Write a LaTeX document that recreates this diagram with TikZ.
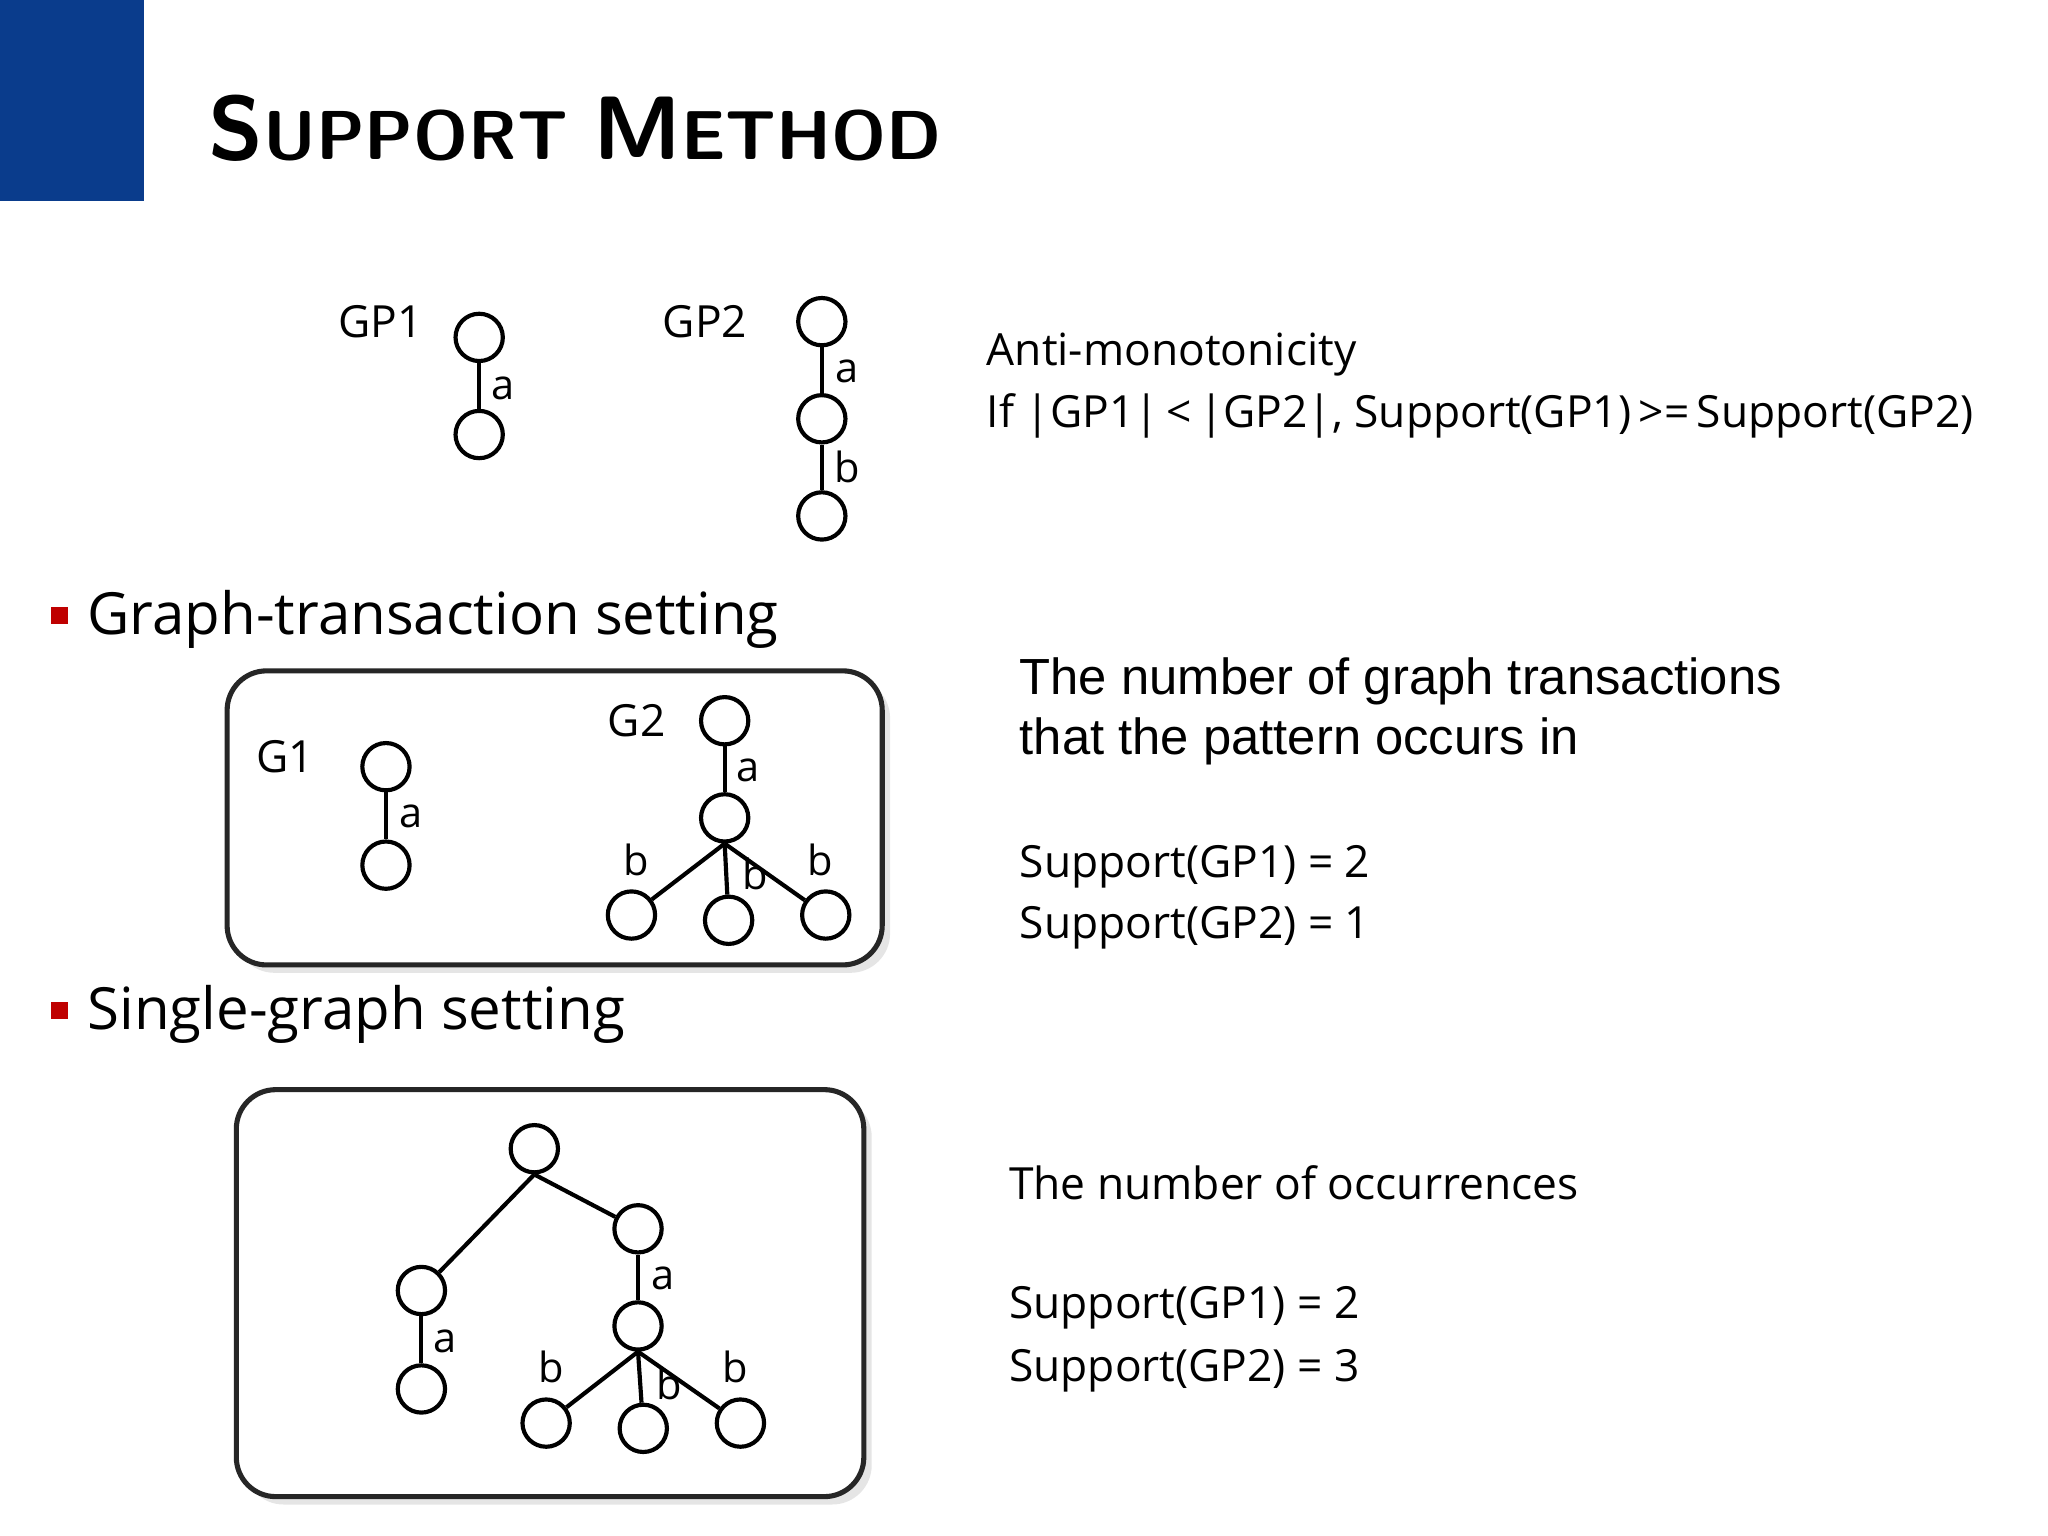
\documentclass[tikz,border=0pt]{standalone}
\usepackage{fontspec}
\setmainfont{Open Sans}
\newfontfamily\arialf{Liberation Sans}
\usetikzlibrary{shadows}
\definecolor{slideblue}{HTML}{0A3C8C}
\begin{document}
\begin{tikzpicture}[x=0.01cm,y=-0.01cm,
  v/.style={circle,draw,line width=0.9pt,minimum size=0.36cm,inner sep=0pt},
  e/.style={line width=0.9pt},
  lb/.style={font=\fontsize{9}{11}\selectfont,inner sep=0pt},
  txt/.style={anchor=west,inner sep=0pt,font=\fontsize{9.6}{12}\selectfont},
  atxt/.style={anchor=west,inner sep=0pt,font=\arialf\fontsize{11}{13}\selectfont},
  big/.style={anchor=west,inner sep=0pt,font=\fontsize{12.6}{16}\selectfont},
  box/.style={draw=black!85,line width=1.1pt,rounded corners=0.3cm,fill=white,drop shadow={opacity=0.2,shadow xshift=0.06cm,shadow yshift=-0.06cm}}]
\useasboundingbox (0,0) rectangle (1560,1170);
\fill[white] (0,0) rectangle (1560,1170);
\fill[slideblue] (0,0) rectangle (110,153);
\node[anchor=west,inner sep=0pt,font=\sffamily\bfseries] (title) at (158,98) {{\fontsize{19.5}{24}\selectfont S}{\fontsize{15}{20}\selectfont UPPORT }{\fontsize{19.5}{24}\selectfont M}{\fontsize{15}{20}\selectfont ETHOD}};
% GP1
\node[lb] (tgp1) at (290,245) {\fontsize{9.6}{12}\selectfont GP1};
\node[v] (p1) at (365,257) {}; \node[v] (p2) at (365,331) {};
\draw[e] (p1)--(p2); \node[lb] (la1) at (383,296) {a};
% GP2
\node[lb] (tgp2) at (537,245) {\fontsize{9.6}{12}\selectfont GP2};
\node[v] (q1) at (626,245) {}; \node[v] (q2) at (626,319) {}; \node[v] (q3) at (626,393) {};
\draw[e] (q1)--(q2); \draw[e] (q2)--(q3);
\node[lb] (la2) at (645,283) {a}; \node[lb] (lb2) at (645,356) {b};
\node[txt] (am1) at (751,270) {Anti-monotonicity};
\node[txt] (am2) at (751,317) {If |GP1|\,<\,|GP2|, Support(GP1)\,>=\,Support(GP2)};
% bullets
\fill[red!75!black] (39,462) rectangle (52,475);
\node[big] (b1) at (66,472) {Graph-transaction setting};
\fill[red!75!black] (39,763) rectangle (52,776);
\node[big] (b2) at (66,773) {Single-graph setting};
% box 1
\draw[box] (173,511) rectangle (672,735);
\node[lb] (tg1) at (217,576) {\fontsize{9.6}{12}\selectfont G1};
\node[v] (g1a) at (294,584) {}; \node[v] (g1b) at (294,659) {};
\draw[e] (g1a)--(g1b); \node[lb] (l3) at (313,622) {a};
\node[lb] (tg2) at (485,549) {\fontsize{9.6}{12}\selectfont G2};
\node[v] (h1) at (552,549) {}; \node[v] (h2) at (552,623) {};
\node[v] (h3) at (481,697) {}; \node[v] (h4) at (555,701) {}; \node[v] (h5) at (629,697) {};
\draw[e] (h1)--(h2); \draw[e] (h2.south)--(h3); \draw[e] (h2.south)--(h4); \draw[e] (h2.south)--(h5);
\node[lb] (l4) at (570,587) {a}; \node[lb] (l5) at (485,655) {b};
\node[lb] (l6) at (575,666) {b}; \node[lb] (l7) at (625,655) {b};
\node[atxt] (n1) at (776,519) {The number of graph transactions};
\node[atxt] (n2) at (776,565) {that the pattern occurs in};
\node[txt] (s1) at (776,660) {Support(GP1) = 2};
\node[txt] (s2) at (776,707) {Support(GP2) = 1};
% box 2
\draw[box] (180,830) rectangle (658,1140);
\node[v] (r) at (407,875) {};
\node[v] (k1) at (321,983) {}; \node[v] (k2) at (321,1058) {};
\node[v] (m1) at (486,936) {}; \node[v] (m2) at (486,1010) {};
\node[v] (c1) at (416,1084) {}; \node[v] (c2) at (490,1088) {}; \node[v] (c3) at (564,1084) {};
\draw[e] (r.south)--(k1); \draw[e] (r.south)--(m1); \draw[e] (k1)--(k2); \draw[e] (m1)--(m2);
\draw[e] (m2.south)--(c1); \draw[e] (m2.south)--(c2); \draw[e] (m2.south)--(c3);
\node[lb] (l8) at (339,1022) {a}; \node[lb] (l9) at (505,974) {a};
\node[lb] (l10) at (420,1041) {b}; \node[lb] (l11) at (510,1054) {b}; \node[lb] (l12) at (560,1041) {b};
\node[txt] (o1) at (768,901) {The number of occurrences};
\node[txt] (o2) at (768,996) {Support(GP1) = 2};
\node[txt] (o3) at (768,1044) {Support(GP2) = 3};
\end{tikzpicture}
\end{document}
